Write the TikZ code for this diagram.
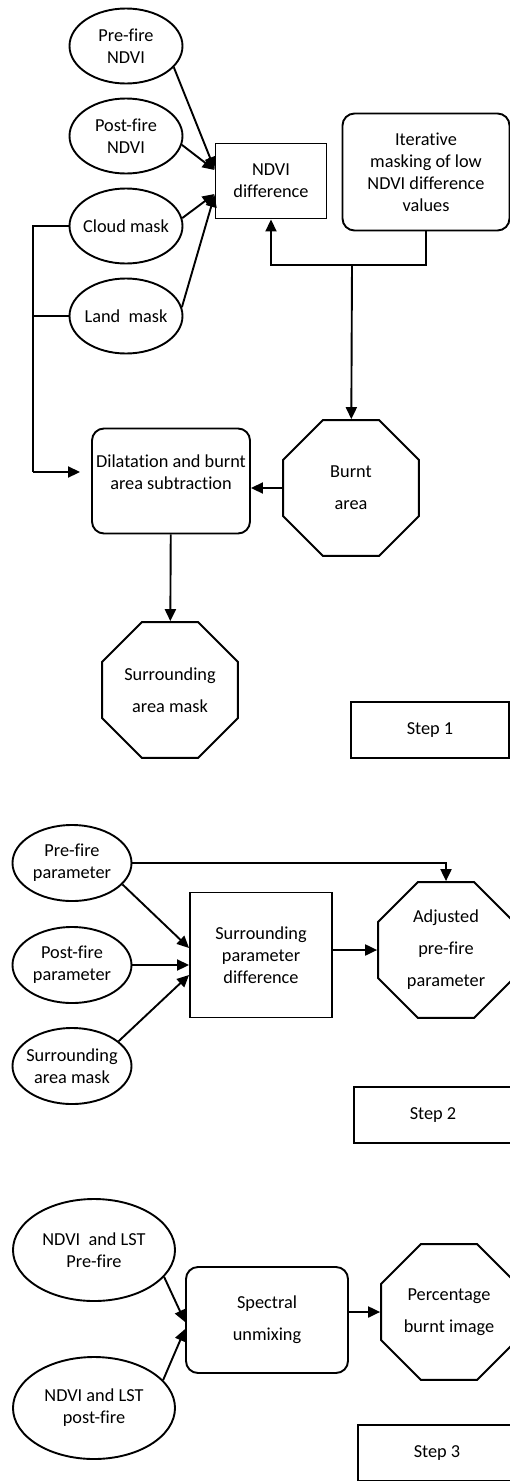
\documentclass[tikz,border=0pt]{standalone}
\usepackage{fontspec}
\setmainfont{Carlito}[Ligatures=NoCommon]
\usetikzlibrary{shapes.geometric,arrows.meta}

\begin{document}
\begin{tikzpicture}[x=1pt,y=1pt,line width=1.9pt,>={Triangle[length=12pt,width=11pt]},font=\fontsize{18.3}{22}\selectfont]
	\tikzstyle{in-node}=[ellipse,draw=black,inner xsep=-10pt,inner ysep=0pt,minimum width=113pt,minimum height=75pt,align=center]
	\tikzstyle{op-node}=[rectangle,draw=black,inner sep=3pt,align=center]
	\tikzstyle{rop-node}=[rectangle,rounded corners=12pt,draw=black,inner sep=3pt,align=center]
	\tikzstyle{out-node}=[regular polygon,regular polygon sides=8,draw=black,minimum size=147pt,inner sep=0pt,align=center]
	\tikzstyle{step-node}=[rectangle,draw=black,minimum width=158pt,minimum height=56pt]
	\useasboundingbox (0,0) rectangle (510,-1481);
	\clip (0,0) rectangle (510,-1481);

	% step 1
	\node[in-node] 	(pre1)	at (126,-46)	{Pre-fire\\NDVI};
	\node[in-node] 	(post1)	at (126,-136)	{Post-fire\\NDVI};
	\node[in-node] 	(cloud)	at (126,-226)	{Cloud mask};
	\node[in-node] 	(land)	at (126,-316)	{Land\ \ mask};
	\node[op-node,minimum width=111pt,minimum height=75pt] 	(ndvidiff)	at (271,-181)	{NDVI\\difference};
	\node[rop-node,minimum width=167pt,minimum height=117pt] 	(iter)	at (426,-172)	{Iterative\\masking of low\\NDVI difference\\values};
	\node[rop-node,minimum width=158pt,minimum height=105pt] 	(dilat)	at (171,-481)	{Dilatation and burnt\\area subtraction\\[-4pt]\mbox{}};
	\node[out-node] 	(burnt)	at (351,-488)	{Burnt\\[10pt]area};
	\node[out-node] 	(surr)	at (170,-690)	{Surrounding\\[10pt]area mask};
	\node[step-node] 	(step1)	at (430,-730)	{Step 1};
	\coordinate (split) at (352,-265);
	\coordinate (busTop) at (33,-226);
	\coordinate (busEnd) at (33,-472);

	\path[->]
		(pre1.-24)	edge	([yshift=12pt]ndvidiff.west)
		(post1.-9)	edge	([yshift=11pt]ndvidiff.west)
		(cloud.8)	edge	([yshift=-13pt]ndvidiff.west)
		(land.9)	edge	([yshift=-14pt]ndvidiff.west)
		(split)	edge	(burnt)
		(burnt.west)	edge	(burnt.west -| dilat.east)
		(dilat)	edge	(surr);
	\draw[->] (iter.south) |- (split) -| (ndvidiff.south);
	\draw (cloud.west) -- (busTop) -- (busEnd);
	\draw (land.west) -- (land.west -| busTop);
	\draw[->,shorten >=11pt] (busEnd) -- (busEnd -| dilat.west);

	% step 2
	\node[in-node,minimum width=119pt,minimum height=76pt] 	(pre2)	at (72,-863)	{Pre-fire\\parameter};
	\node[in-node,minimum width=119pt,minimum height=76pt] 	(post2)	at (72,-965)	{Post-fire\\parameter};
	\node[in-node,minimum width=119pt,minimum height=76pt] 	(mask2)	at (72,-1066)	{Surrounding\\area mask};
	\node[op-node,minimum width=142pt,minimum height=125pt] 	(sdiff)	at (261,-955)	{Surrounding\\parameter\\difference};
	\node[out-node] 	(adj)	at (446,-950)	{Adjusted\\[10pt]pre-fire\\[10pt]parameter};
	\node[step-node] 	(step2)	at (433,-1115)	{Step 2};

	\draw[->] (pre2.east) -| (adj.north);
	\path[->]
		(pre2.-23)	edge	([yshift=7pt]sdiff.west)
		(post2.east)	edge	(post2.east -| sdiff.west)
		(mask2.28)	edge	([yshift=-20pt]sdiff.west)
		(adj.west -| sdiff.east)	edge	(adj.west);

	% step 3
	\node[in-node,minimum width=162pt,minimum height=102pt] 	(lst1)	at (94,-1250)	{NDVI\ \ and LST\\Pre-fire};
	\node[in-node,minimum width=162pt,minimum height=102pt] 	(lst2)	at (94,-1408)	{NDVI and LST\\post-fire};
	\node[rop-node,minimum width=162pt,minimum height=106pt] 	(spec)	at (267,-1320)	{Spectral\\[10pt]unmixing};
	\node[out-node] 	(pct)	at (449,-1312)	{Percentage\\[10pt]burnt image};
	\node[step-node] 	(step3)	at (437,-1453)	{Step 3};

	\path[->]
		(lst1.-21)	edge	([yshift=-2pt]spec.west)
		(lst2.22)	edge	([yshift=-9pt]spec.west)
		(pct.west -| spec.east)	edge	(pct.west);
\end{tikzpicture}
\end{document}
